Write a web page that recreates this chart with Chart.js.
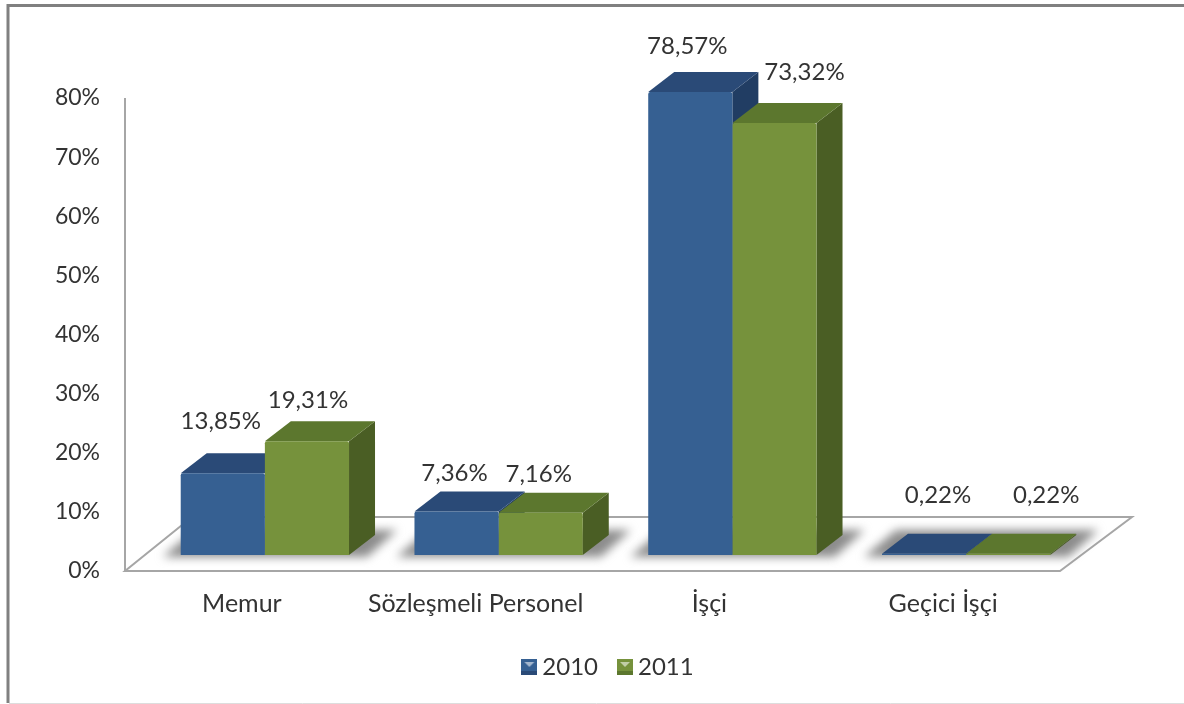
<!DOCTYPE html>
<html lang="tr">
<head>
    <meta charset="UTF-8">
    <title>Personel dağılımı</title>
    <style>
        html, body { margin: 0; padding: 0; background: #ffffff; }
        #wrap { width: 1184px; height: 704px; }
    </style>
</head>
<body>
    <div id="wrap"><canvas id="chart" width="1184" height="704"></canvas></div>

    <script src="https://cdn.jsdelivr.net/npm/chart.js"></script>
    <script>
        const categories = ['Memur', 'Sözleşmeli Personel', 'İşçi', 'Geçici İşçi'];
        const years = ['2010', '2011'];
        const values2010 = [13.85, 7.36, 78.57, 0.22];
        const values2011 = [19.31, 7.16, 73.32, 0.22];
        const yTicks = [0, 10, 20, 30, 40, 50, 60, 70, 80];

        const FONT = 'Lato, "Open Sans", sans-serif';
        const TEXT = '#333333';
        const DEPTH_X = 26, DEPTH_Y = 20;   // 3D depth of the bars
        const colors2010 = { front: '#366092', top: '#2a4a77', side: '#213d63' };
        const colors2011 = { front: '#76923c', top: '#5c772e', side: '#4a5e24' };
        const palette = [colors2010, colors2011];

        // label shift from the default spot above each bar, [dx, dy] per category
        const labelShift = [
            [[-2, -12], [1, -1]],
            [[-2, 2], [-2, 1]],
            [[-3, -6], [30, -11]],
            [[14, -18], [38, -18]]
        ];

        function poly(ctx, pts, fill) {
            ctx.beginPath();
            pts.forEach((p, i) => i ? ctx.lineTo(p[0], p[1]) : ctx.moveTo(p[0], p[1]));
            ctx.closePath();
            if (fill) { ctx.fillStyle = fill; ctx.fill(); }
        }

        // little square with a light chevron, like the Excel legend keys
        function legendKey(c) {
            const cv = document.createElement('canvas');
            cv.width = 16; cv.height = 16;
            const g = cv.getContext('2d');
            g.fillStyle = c.front;
            g.fillRect(0, 0, 16, 16);
            g.fillStyle = c.top;
            g.fillRect(0, 12, 16, 4);
            poly(g, [[3, 3], [13, 3], [8, 8]], 'rgba(255,255,255,0.55)');
            return cv;
        }

        const scene3d = {
            id: 'scene3d',
            beforeDraw(chart) {
                const ctx = chart.ctx;
                ctx.save();
                ctx.strokeStyle = '#808080';
                ctx.lineWidth = 3;
                ctx.beginPath();
                ctx.moveTo(8, 703);
                ctx.lineTo(8, 5.5);
                ctx.lineTo(1184, 5.5);
                ctx.stroke();
                ctx.strokeStyle = '#dddddd';
                ctx.lineWidth = 1;
                ctx.beginPath();
                ctx.moveTo(9, 703.5);
                ctx.lineTo(1184, 703.5);
                ctx.stroke();
                ctx.restore();
            },
            beforeDatasetsDraw(chart) {
                const ctx = chart.ctx, a = chart.chartArea;
                const base = chart.scales.yBars.getPixelForValue(0);
                const axisX = a.left - 23, floorBack = base - 38;
                ctx.save();
                // floor
                poly(ctx, [[axisX, a.bottom], [a.right - 23, a.bottom], [a.right + 49, floorBack], [axisX + 67, floorBack]], '#ffffff');
                ctx.strokeStyle = '#a6a6a6';
                ctx.lineWidth = 2;
                ctx.stroke();
                // axis line
                ctx.beginPath();
                ctx.moveTo(axisX, a.top);
                ctx.lineTo(axisX, a.bottom);
                ctx.stroke();
                // soft shadows on the floor
                const m0 = chart.getDatasetMeta(0).data, m1 = chart.getDatasetMeta(1).data;
                ctx.filter = 'blur(5px)';
                m0.forEach((b, i) => {
                    const l = b.x - b.width / 2, r = m1[i].x + m1[i].width / 2;
                    poly(ctx, [[l - 18, base + 2], [r + 18, base + 2], [r + 48, base - 25], [l + 14, base - 25]], '#8c8c8c');
                });
                ctx.filter = 'none';
                // top and side faces, 2010 first so the 2011 faces lie over it;
                // the front faces are drawn afterwards by the chart itself
                chart.data.datasets.forEach((ds, d) => {
                    const c = palette[d];
                    chart.getDatasetMeta(d).data.forEach(b => {
                        const l = b.x - b.width / 2, r = b.x + b.width / 2, t = b.y;
                        poly(ctx, [[r, t], [r + DEPTH_X, t - DEPTH_Y], [r + DEPTH_X, base - DEPTH_Y], [r, base]], c.side);
                        poly(ctx, [[l, t], [l + DEPTH_X, t - DEPTH_Y], [r + DEPTH_X, t - DEPTH_Y], [r, t]], c.top);
                    });
                });
                ctx.restore();
            },
            afterDatasetsDraw(chart) {
                const ctx = chart.ctx;
                ctx.save();
                ctx.font = '24px ' + FONT;
                ctx.fillStyle = TEXT;
                ctx.textAlign = 'center';
                ctx.textBaseline = 'middle';
                chart.data.datasets.forEach((ds, d) => {
                    chart.getDatasetMeta(d).data.forEach((b, i) => {
                        const s = labelShift[i][d];
                        const txt = ds.data[i].toFixed(2).replace('.', ',') + '%';
                        ctx.fillText(txt, b.x + s[0], b.y - DEPTH_Y - 20 + s[1]);
                    });
                });
                ctx.restore();
            }
        };

        new Chart(document.getElementById('chart'), {
            type: 'bar',
            data: {
                labels: categories,
                datasets: [
                    { label: years[0], data: values2010, yAxisID: 'yBars', clip: false, backgroundColor: colors2010.front, borderRadius: { topLeft: 2, topRight: 2 } },
                    { label: years[1], data: values2011, yAxisID: 'yBars', clip: false, backgroundColor: colors2011.front, borderRadius: { topLeft: 2, topRight: 2 } }
                ]
            },
            options: {
                responsive: false,
                animation: false,
                layout: { padding: { left: 38, right: 0, top: 98, bottom: 15 } },
                categoryPercentage: 0.72,
                barPercentage: 1,
                plugins: {
                    tooltip: { enabled: false },
                    legend: {
                        position: 'bottom',
                        labels: {
                            color: TEXT,
                            font: { family: FONT, size: 24 },
                            usePointStyle: true,
                            pointStyleWidth: 2,
                            padding: 26,
                            generateLabels(chart) {
                                return chart.data.datasets.map((ds, i) => ({
                                    text: ds.label,
                                    datasetIndex: i,
                                    fontColor: TEXT,
                                    pointStyle: legendKey(palette[i]),
                                    lineWidth: 0
                                }));
                            }
                        }
                    }
                },
                scales: {
                    x: {
                        grid: { display: false },
                        border: { display: false },
                        afterFit(scale) { scale.height = 58; },
                        ticks: {
                            color: TEXT,
                            font: { family: FONT, size: 25 },
                            padding: 10,
                            labelOffset: -23,
                            maxRotation: 0
                        }
                    },
                    y: {
                        position: 'left',
                        min: 0,
                        max: 80,
                        grid: { display: false, drawTicks: false },
                        border: { display: false },
                        afterFit(scale) { scale.width = 110; },
                        afterBuildTicks(scale) { scale.ticks = yTicks.map(v => ({ value: v })); },
                        ticks: {
                            color: TEXT,
                            font: { family: FONT, size: 23 },
                            padding: 48,
                            callback: v => v + '%'
                        }
                    },
                    // the front faces stand a little above the axis zero because of the 3D floor
                    yBars: {
                        position: 'right',
                        min: -2.72,
                        max: 77.55,
                        grid: { display: false, drawTicks: false },
                        border: { display: false },
                        afterFit(scale) { scale.width = 101; },
                        ticks: { display: false }
                    }
                }
            },
            plugins: [scene3d]
        });
    </script>
</body>
</html>
